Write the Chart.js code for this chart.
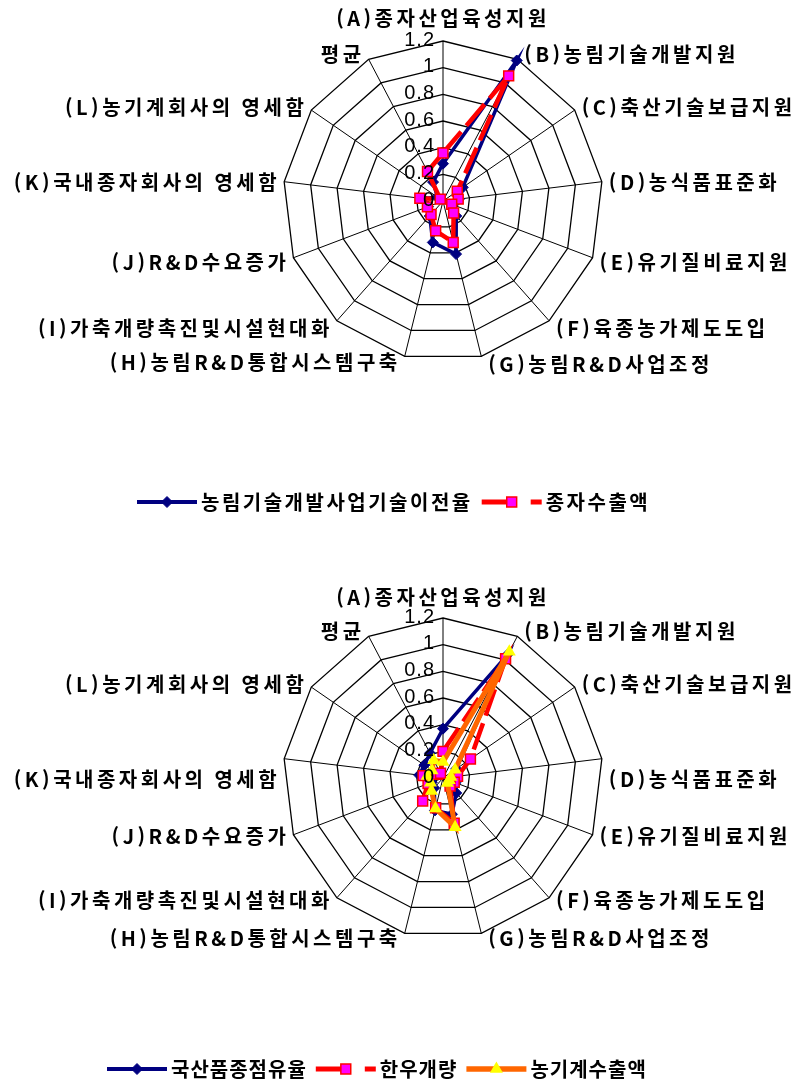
<!DOCTYPE html>
<html lang="ko">
<head>
<meta charset="utf-8">
<script src="https://cdn.jsdelivr.net/npm/chart.js@4.4.1/dist/chart.umd.min.js"></script>
<style>
  body { margin: 0; background: #fff; overflow: hidden; }
  canvas { display: block; }
</style>
</head>
<body>
<canvas id="chartTop" width="799" height="542"></canvas>
<canvas id="chartBottom" width="799" height="542"></canvas>
<script>
// axis categories (same for both charts)
const axisLabels = [
    "(A)종자산업육성지원", "(B)농림기술개발지원", "(C)축산기술보급지원", "(D)농식품표준화",
    "(E)유기질비료지원", "(F)육종농가제도도입", "(G)농림R&D사업조정", "(H)농림R&D통합시스템구축",
    "(I)가축개량촉진및시설현대화", "(J)R&D수요증가", "(K)국내종자회사의 영세함", "(L)농기계회사의 영세함", "평균"
];
const tickLabels = ["0", "0.2", "0.4", "0.6", "0.8", "1", "1.2"];

// top chart
const topSeriesNames = ["농림기술개발사업기술이전율", "종자수출액"];
const techTransfer = [0.28, 1.19, 0.18, 0.12, 0.08, 0.15, 0.41, 0.32, 0.15, 0.12, 0.15, 0.05, 0.16];
const seedExport   = [0.36, 1.06, 0.13, 0.115, 0.07, 0.12, 0.32, 0.23, 0.135, 0.125, 0.175, 0.025, 0.25];

// bottom chart
const bottomSeriesNames = ["국산품종점유율", "한우개량", "농기계수출액"];
const domesticShare = [0.37, 1.05, 0.12, 0.08, 0.10, 0.15, 0.28, 0.25, 0.10, 0.09, 0.18, 0.17, 0.21];
const hanwooBreeding = [0.20, 1.01, 0.25, 0.11, 0.09, 0.08, 0.35, 0.23, 0.23, 0.12, 0.15, 0.05, 0.04];
const machineExport = [0.12, 1.07, 0.11, 0.06, 0.05, 0.05, 0.38, 0.235, 0.13, 0.10, 0.12, 0.10, 0.15];

// series looks
const styles = [
    { borderColor: "#000080", borderWidth: 3.5, pointStyle: "rectRot", pointRadius: 5.5,
      pointBackgroundColor: "#000080", pointBorderColor: "#000080", pointBorderWidth: 1, order: 3 },
    { borderColor: "#ff0000", borderWidth: 4.5, borderDash: [28, 8], pointStyle: "rect", pointRadius: 7,
      pointBackgroundColor: "#ff00ff", pointBorderColor: "#ff0000", pointBorderWidth: 1.5, order: 2 },
    { borderColor: "#ff6600", borderWidth: 5, pointStyle: "triangle", pointRadius: 7.5,
      pointBackgroundColor: "#ffff00", pointBorderColor: "#ffff00", pointBorderWidth: 0, order: 1 }
];

function buildDatasets(names, values) {
    return names.map((name, i) => Object.assign({
        label: name,
        data: values[i],
        fill: false,
        tension: 0,
        pointHoverRadius: 0
    }, styles[i]));
}

// tick numbers and the category names around the web
const radarText = {
    id: "radarText",
    afterDatasetsDraw(chart, args, opts) {
        const r = chart.scales.r;
        const ctx = chart.ctx;
        const shift = opts.shift || {};
        ctx.save();
        ctx.fillStyle = "#000";

        ctx.font = '20px "Liberation Sans", Arial, sans-serif';
        ctx.letterSpacing = "1px";
        ctx.textAlign = "right";
        ctx.textBaseline = "middle";
        r.ticks.forEach((t, i) => {
            const y = r.yCenter - r.getDistanceFromCenterForValue(t.value);
            ctx.fillText(tickLabels[i], r.xCenter - 8, y - 1);
        });

        ctx.font = 'bold 20px "Noto Sans CJK KR", sans-serif';
        ctx.letterSpacing = "3.5px";
        chart.data.labels.forEach((label, i) => {
            const p = r.getPointPosition(i, r.drawingArea);
            const dx = p.x - r.xCenter;
            const cosA = (r.yCenter - p.y) / r.drawingArea;
            const dy = shift[i] || 0;
            if (i === 0) {
                ctx.textAlign = "center";
                ctx.textBaseline = "bottom";
                ctx.fillText(label, p.x, p.y - 13 + dy);
            } else {
                ctx.textAlign = dx > 0 ? "left" : "right";
                ctx.textBaseline = "middle";
                ctx.fillText(label, p.x + (dx > 0 ? 7 : -4), p.y - 8 * cosA + 2 + dy);
            }
        });
        ctx.restore();
    }
};

// excel-like legend: line sample with the marker on it
const radarLegend = {
    id: "radarLegend",
    afterDraw(chart, args, opts) {
        const ctx = chart.ctx;
        const y = opts.y;
        let x = opts.x;
        ctx.save();
        ctx.font = 'bold 20px "Noto Sans CJK KR", sans-serif';
        ctx.letterSpacing = opts.spacing + "px";
        ctx.textAlign = "left";
        ctx.textBaseline = "middle";
        chart.data.datasets.forEach(ds => {
            ctx.save();
            ctx.strokeStyle = ds.borderColor;
            ctx.lineWidth = ds.borderWidth + 0.5;
            ctx.setLineDash(ds.borderDash ? [27, 22] : []);
            ctx.beginPath();
            ctx.moveTo(x, y);
            ctx.lineTo(x + 60, y);
            ctx.stroke();
            ctx.setLineDash([]);
            ctx.fillStyle = ds.pointBackgroundColor;
            ctx.strokeStyle = ds.pointBorderColor;
            ctx.lineWidth = ds.pointBorderWidth;
            Chart.helpers.drawPoint(ctx, {
                pointStyle: ds.pointStyle, radius: ds.pointRadius, rotation: 0, borderWidth: ds.pointBorderWidth
            }, x + 30, y);
            ctx.restore();
            x += 64;
            ctx.fillStyle = "#000";
            ctx.fillText(ds.label, x, y);
            x += ctx.measureText(ds.label).width + 9;
        });
        ctx.restore();
    }
};

function makeRadar(canvasId, datasets, padding, legendPos, labelShift) {
    new Chart(document.getElementById(canvasId), {
        type: "radar",
        data: { labels: axisLabels, datasets: datasets },
        plugins: [radarText, radarLegend],
        options: {
            responsive: false,
            animation: false,
            events: [],
            layout: { padding: padding },
            plugins: {
                legend: { display: false },
                tooltip: { enabled: false },
                radarLegend: legendPos,
                radarText: { shift: labelShift }
            },
            scales: {
                r: {
                    min: 0,
                    max: 1.2,
                    ticks: { stepSize: 0.2, display: false },
                    pointLabels: { display: false },
                    grid: { color: "#000", lineWidth: 1.3 },
                    angleLines: { color: "#000", lineWidth: 1 }
                }
            }
        }
    });
}

makeRadar("chartTop",
    buildDatasets(topSeriesNames, [techTransfer, seedExport]),
    { left: 283, right: 196, top: 41, bottom: 181 },
    { x: 137, y: 502, spacing: 2.5 },
    { 6: -2, 7: -4 });

makeRadar("chartBottom",
    buildDatasets(bottomSeriesNames, [domesticShare, hanwooBreeding, machineExport]),
    { left: 283, right: 196, top: 76, bottom: 146 },
    { x: 107, y: 527, spacing: 1 },
    { 0: 2, 3: 20, 10: 20, 4: -3, 9: -3, 5: -5, 8: -5, 6: -5, 7: -5 });
</script>
</body>
</html>
